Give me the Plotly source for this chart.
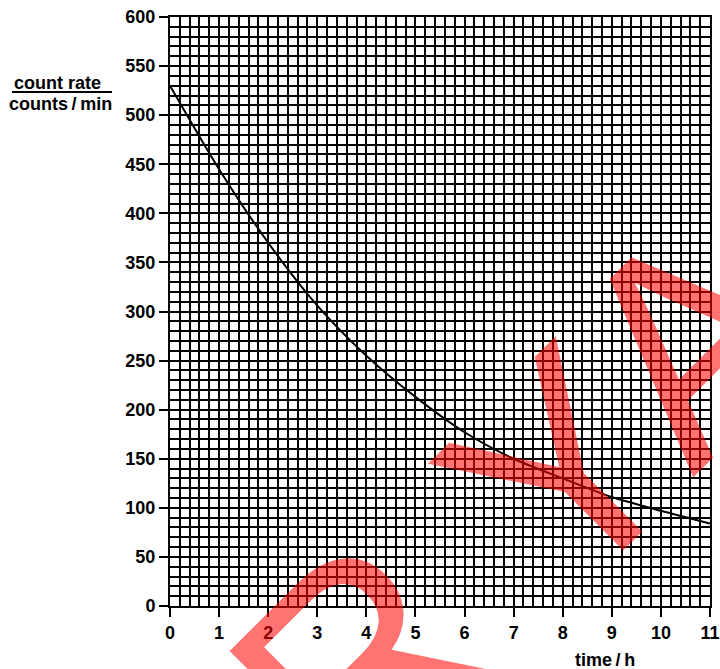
import plotly.graph_objects as go

# data
time_h = [0, 1, 2, 3, 4, 5, 6, 7, 8, 9, 10, 11]
count_rate = [530, 445, 370, 306, 255, 213, 177, 150, 130, 111, 97, 84]

x_ticks = list(range(0, 12))
y_ticks = list(range(0, 601, 50))

font_main = "Liberation Sans, Arial, sans-serif"

fig = go.Figure()
fig.add_trace(go.Scatter(
    x=time_h, y=count_rate, mode="lines",
    line=dict(color="black", width=2, shape="spline", smoothing=0.8),
    showlegend=False, hoverinfo="skip",
))

axis_common = dict(
    showgrid=True, gridcolor="black", gridwidth=1.6,
    showline=True, linecolor="black", linewidth=2, mirror=True,
    ticks="outside", ticklen=9, tickwidth=2, tickcolor="black",
    zeroline=False, automargin=False, ticklabeloverflow="allow",
    tickfont=dict(family=font_main, size=18, color="black", weight="bold"),
)

fig.update_xaxes(
    range=[0, 11], tickvals=x_ticks, ticktext=[str(v) for v in x_ticks],
    minor=dict(dtick=0.2, showgrid=True, gridcolor="black", gridwidth=1.6),
    **axis_common,
)
fig.update_yaxes(
    range=[0, 600], tickvals=y_ticks, ticktext=[str(v) for v in y_ticks],
    minor=dict(dtick=10, showgrid=True, gridcolor="black", gridwidth=1.6),
    **axis_common,
)

W, H = 720, 669
L, R, T, B = 170, 10, 17, 63
pw, ph = W - L - R, H - T - B


def px_to_paper(px, py):
    return (px - L) / pw, (H - B - py) / ph


def add_text(annots, px, py, text, size, angle=0, color="black", weight="normal"):
    xa, ya = px_to_paper(px, py)
    annots.append(dict(x=xa, y=ya, xref="paper", yref="paper", text=text,
                       xanchor="center", yanchor="middle", showarrow=False,
                       textangle=angle,
                       font=dict(family=font_main, size=size, color=color, weight=weight)))


annotations = []
add_text(annotations, 57, 83, "count rate", 18, weight="bold")
add_text(annotations, 61, 104, "counts\u2009/\u2009min", 18, weight="bold")
add_text(annotations, 605, 660, "time\u2009/\u2009h", 18, weight="bold")

# red watermark letters
wm_letters = ["R", "Y", "A"]
wm_centers = [(356, 664), (561, 470), (690, 338)]
for ch, (cx, cy) in zip(wm_letters, wm_centers):
    add_text(annotations, cx, cy, ch, 290, angle=-45, color="rgba(255,0,0,0.55)")

x0, y0 = px_to_paper(12, 92)
x1, _ = px_to_paper(112, 92)
fig.add_shape(type="line", xref="paper", yref="paper", x0=x0, x1=x1, y0=y0, y1=y0,
              line=dict(color="black", width=2))

fig.update_layout(
    width=W, height=H,
    margin=dict(l=L, r=R, t=T, b=B, autoexpand=False),
    paper_bgcolor="white", plot_bgcolor="white",
    annotations=annotations,
)

fig.write_html(
    "out.html",
    config={"displayModeBar": False},
    post_script="document.body.style.margin='0';document.body.style.overflow='hidden';",
)
